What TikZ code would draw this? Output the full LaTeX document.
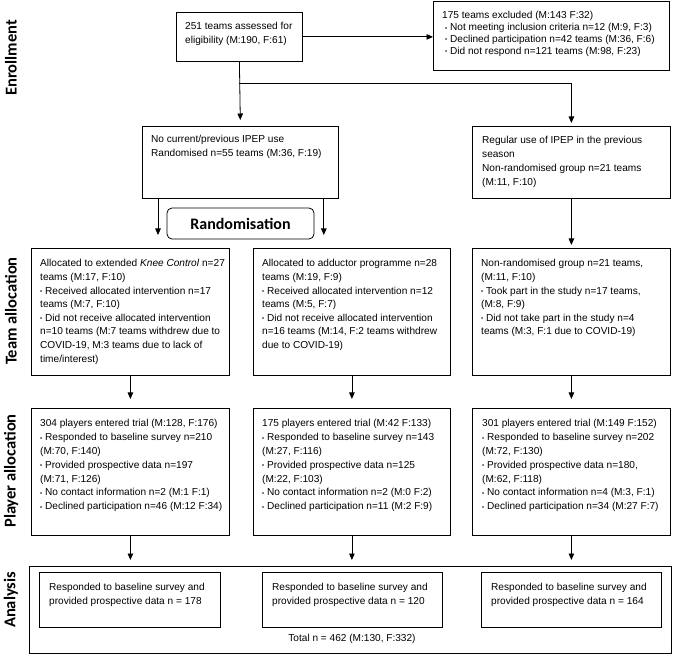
\documentclass[tikz,border=0pt]{standalone}
\usepackage{fontspec}
\setmainfont{Liberation Sans}
\newfontfamily\stagefont{Carlito}
\usetikzlibrary{arrows.meta}

% small bullet used in the lists
\newcommand{\bul}{{\fontsize{6}{6}\selectfont\raisebox{0.6pt}{\textbullet}}\ }

\tikzset{
  box/.style={draw, line width=0.8pt, anchor=north west, inner sep=0pt},
  txt/.style={anchor=north west, inner sep=0pt, align=left, font=\fontsize{10.1}{13.8}\selectfont},
  stage/.style={rotate=90, font=\stagefont\bfseries\fontsize{16.5}{16.5}\selectfont},
  arr/.style={-{Triangle[length=6.5pt,width=5.5pt]}, line width=0.8pt},
}

\begin{document}
\begin{tikzpicture}[x=1pt, y=-1pt]
\useasboundingbox (0,0) rectangle (673,655);

% Stage labels
\node[stage] (lenroll) at (11,58) {Enrollment};
\node[stage] (lteam) at (11,311) {Team allocation};
\node[stage] (lplayer) at (11,471) {Player allocation};
\node[stage] (lanalysis) at (11,600) {Analysis};

% Enrollment
\node[box, minimum width=126pt, minimum height=49pt] (assess) at (176,12) {};
\node[txt] (assesst) at ([xshift=9pt, yshift=-10.4pt]assess.north west)
  {251 teams assessed for\\eligibility (M:190, F:61)};
\node[box, minimum width=236pt, minimum height=69pt] (excl) at (433,1) {};
\node[txt, font=\fontsize{10.1}{11.7}\selectfont] (exclt) at ([xshift=9pt, yshift=-10.4pt]excl.north west)
  {175 teams excluded (M:143 F:32)\\
   \hspace*{3pt}\bul Not meeting inclusion criteria n=12 (M:9, F:3)\\
   \hspace*{3pt}\bul Declined participation n=42 teams (M:36, F:6)\\
   \hspace*{3pt}\bul Did not respond n=121 teams (M:98, F:23)};

\node[box, minimum width=196pt, minimum height=72pt] (nocur) at (142,126) {};
\node[txt, font=\fontsize{10.1}{14}\selectfont] (nocurt) at ([xshift=9pt, yshift=-9.4pt]nocur.north west)
  {No current/previous IPEP use\\Randomised n=55 teams (M:36, F:19)};
\node[box, minimum width=198pt, minimum height=72pt] (regular) at (472,126) {};
\node[txt, font=\fontsize{10.1}{14}\selectfont] (regulart) at ([xshift=10pt, yshift=-10.4pt]regular.north west)
  {Regular use of IPEP in the previous\\season\\Non-randomised group n=21 teams\\(M:11, F:10)};

\node[draw, rounded corners=5pt, line width=0.8pt, minimum width=147pt, minimum height=31pt,
  font=\stagefont\bfseries\fontsize{16}{16}\selectfont] (rand) at (240.5,223.5) {Randomisation};

% Team allocation
\node[box, minimum width=198pt, minimum height=127pt] (alloc1) at (31,248) {};
\node[txt, font=\fontsize{10.1}{13.6}\selectfont] (alloc1t) at ([xshift=9pt, yshift=-11.4pt]alloc1.north west)
  {Allocated to extended \textit{Knee Control} n=27\\teams (M:17, F:10)\\
   \bul Received allocated intervention n=17\\teams (M:7, F:10)\\
   \bul Did not receive allocated intervention\\n=10 teams (M:7 teams withdrew due to\\
   COVID-19, M:3 teams due to lack of\\time/interest)};
\node[box, minimum width=197pt, minimum height=127pt] (alloc2) at (253,248) {};
\node[txt, font=\fontsize{10.1}{13.6}\selectfont] (alloc2t) at ([xshift=9pt, yshift=-11.4pt]alloc2.north west)
  {Allocated to adductor programme n=28\\teams (M:19, F:9)\\
   \bul Received allocated intervention n=12\\teams (M:5, F:7)\\
   \bul Did not receive allocated intervention\\n=16 teams (M:14, F:2 teams withdrew\\
   due to COVID-19)};
\node[box, minimum width=198pt, minimum height=127pt] (alloc3) at (472,248) {};
\node[txt, font=\fontsize{10.1}{13.6}\selectfont] (alloc3t) at ([xshift=9pt, yshift=-11.4pt]alloc3.north west)
  {Non-randomised group n=21 teams,\\(M:11, F:10)\\
   \bul Took part in the study n=17 teams,\\(M:8, F:9)\\
   \bul Did not take part in the study n=4\\teams (M:3, F:1 due to COVID-19)};

% Player allocation
\node[box, minimum width=198pt, minimum height=127pt] (player1) at (31,408) {};
\node[txt] (player1t) at ([xshift=9pt, yshift=-11.4pt]player1.north west)
  {304 players entered trial (M:128, F:176)\\
   \bul Responded to baseline survey n=210\\(M:70, F:140)\\
   \bul Provided prospective data n=197\\(M:71, F:126)\\
   \bul No contact information n=2 (M:1 F:1)\\
   \bul Declined participation n=46 (M:12 F:34)};
\node[box, minimum width=197pt, minimum height=127pt] (player2) at (253,408) {};
\node[txt] (player2t) at ([xshift=9pt, yshift=-11.4pt]player2.north west)
  {175 players entered trial (M:42 F:133)\\
   \bul Responded to baseline survey n=143\\(M:27, F:116)\\
   \bul Provided prospective data n=125\\(M:22, F:103)\\
   \bul No contact information n=2 (M:0 F:2)\\
   \bul Declined participation n=11 (M:2 F:9)};
\node[box, minimum width=198pt, minimum height=127pt] (player3) at (472,408) {};
\node[txt] (player3t) at ([xshift=10pt, yshift=-11.4pt]player3.north west)
  {301 players entered trial (M:149 F:152)\\
   \bul Responded to baseline survey n=202\\(M:72, F:130)\\
   \bul Provided prospective data n=180,\\(M:62, F:118)\\
   \bul No contact information n=4 (M:3, F:1)\\
   \bul Declined participation n=34 (M:27 F:7)};

% Analysis
\node[box, minimum width=642pt, minimum height=87pt] (analysis) at (29,566) {};
\node[box, minimum width=181pt, minimum height=55pt] (an1) at (39,572) {};
\node[box, minimum width=180pt, minimum height=55pt] (an2) at (262,572) {};
\node[box, minimum width=180pt, minimum height=55pt] (an3) at (481,572) {};
\node[txt] (an1t) at ([xshift=10pt, yshift=-11.4pt]an1.north west)
  {Responded to baseline survey and\\provided prospective data n = 178};
\node[txt] (an2t) at ([xshift=10pt, yshift=-11.4pt]an2.north west)
  {Responded to baseline survey and\\provided prospective data n = 120};
\node[txt] (an3t) at ([xshift=10pt, yshift=-11.4pt]an3.north west)
  {Responded to baseline survey and\\provided prospective data n = 164};
\node[txt, anchor=center] (total) at (352,639) {Total n = 462 (M:130, F:332)};

% Connectors
\draw[arr] (assess.east) -- (assess.east -| excl.west);
\draw[arr, shorten >=6pt] (assess.south) -- (nocur.north);
\coordinate (fork) at (assess.south |- 0,83);
\draw[arr, shorten >=3pt] (fork) -| (regular.north);
\draw[arr, shorten >=13pt] ([xshift=16pt]nocur.south west) -- ([xshift=16pt]nocur.south west |- alloc1.north);
\draw[arr, shorten >=13pt] ([xshift=-15pt]nocur.south east) -- ([xshift=-15pt]nocur.south east |- alloc2.north);
\draw[arr, shorten >=3pt] (regular.south) -- (alloc3.north);
\foreach \i in {1,2,3} {
  \draw[arr, shorten >=9pt] (alloc\i.south) -- (player\i.north);
  \draw[arr, shorten >=6pt] (player\i.south) -- (player\i.south |- analysis.north);
}

\end{tikzpicture}
\end{document}
